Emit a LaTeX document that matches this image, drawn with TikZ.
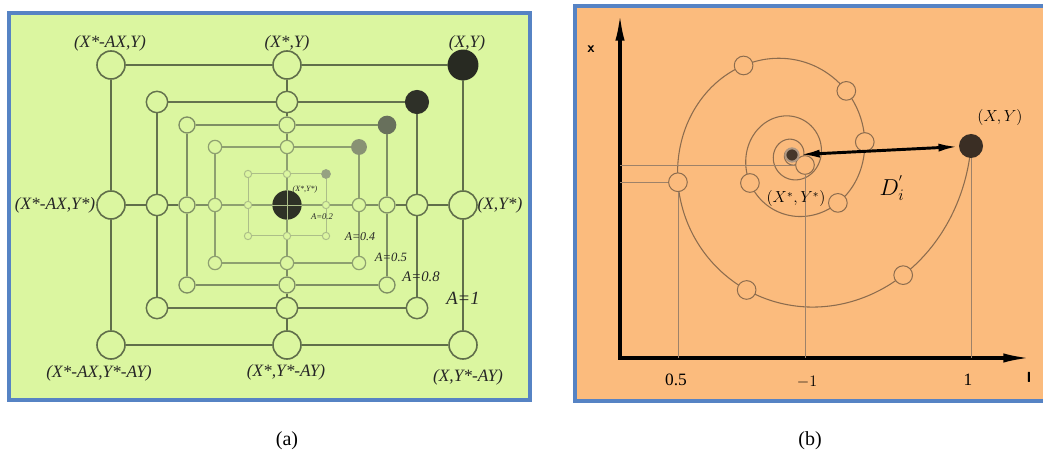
\documentclass[tikz,border=0pt]{standalone}
\usepackage{fontspec}
\setmainfont{Liberation Serif}
\usetikzlibrary{arrows.meta}

\definecolor{leafbg}{RGB}{219,246,160}
\definecolor{peachbg}{RGB}{251,187,125}
\definecolor{framebl}{RGB}{86,131,196}
\definecolor{gridA}{RGB}{96,110,74}
\definecolor{gridB}{RGB}{100,114,78}
\definecolor{gridC}{RGB}{126,142,100}
\definecolor{gridD}{RGB}{142,160,112}
\definecolor{gridE}{RGB}{172,190,136}
\definecolor{dotA}{RGB}{40,42,34}
\definecolor{dotB}{RGB}{46,48,40}
\definecolor{dotC}{RGB}{104,112,92}
\definecolor{dotD}{RGB}{136,146,116}
\definecolor{dotE}{RGB}{150,162,130}
\definecolor{spirl}{RGB}{140,108,78}
\definecolor{inkdark}{RGB}{58,46,36}

\tikzset{every picture/.style={line width=0.75pt}}

\begin{document}
\begin{tikzpicture}[x=0.75pt,y=0.75pt,yscale=-1,xscale=1,
  gridpt/.style={circle,draw,fill=leafbg,inner sep=0pt,minimum size=#1},
  ring/.style={circle,draw=spirl,fill=peachbg,inner sep=0pt,minimum size=14},
  proj/.style={draw=spirl!85!white,line width=0.6pt},
  axisline/.style={line width=2.3pt,{Latex[length=20pt,width=7pt]}-{Latex[length=20pt,width=7pt]}},
  glabel/.style={font=\fontsize{13}{15}\selectfont\itshape,text=black!85},
  alabel/.style={font=\fontsize{#1}{#1}\selectfont\itshape,text=black!85}]
\useasboundingbox (0,0) rectangle (1043,459);

%Shape: Rectangle (left panel)
\draw [draw=framebl,fill=leafbg,line width=3pt] (9,13) rectangle (530,400);
%Shape: Rectangle (right panel)
\draw [draw=framebl,fill=peachbg,line width=3pt] (575,6) rectangle (1047,401);

%Shape: nested squares
\foreach \k/\w/\h/\d/\lc/\dc/\lw in {1/176/140/21/gridA/dotA/1.2,2/130/103/16/gridB/dotB/1.1,3/100/80/12/gridC/dotC/1,4/72/58/10/gridD/dotD/0.9,5/39/31/5.5/gridE/dotE/0.75}{
  \node[gridpt=\d,draw=\lc,line width=\lw pt] (tl\k) at ({287-\w},{205-\h}) {};
  \node[gridpt=\d,draw=\lc,line width=\lw pt] (tm\k) at (287,{205-\h}) {};
  \node[gridpt=\d+1,draw=\dc,fill=\dc,line width=\lw pt] (tr\k) at ({287+\w},{205-\h}) {};
  \node[gridpt=\d,draw=\lc,line width=\lw pt] (ml\k) at ({287-\w},205) {};
  \node[gridpt=\d,draw=\lc,line width=\lw pt] (mr\k) at ({287+\w},205) {};
  \node[gridpt=\d,draw=\lc,line width=\lw pt] (bl\k) at ({287-\w},{205+\h}) {};
  \node[gridpt=\d,draw=\lc,line width=\lw pt] (bm\k) at (287,{205+\h}) {};
  \node[gridpt=\d,draw=\lc,line width=\lw pt] (br\k) at ({287+\w},{205+\h}) {};
  \draw [\lc,line width=\lw pt] (tl\k) -- (tm\k) -- (tr\k) -- (mr\k) -- (br\k) -- (bm\k) -- (bl\k) -- (ml\k) -- (tl\k);
}

%Shape: Circle (best position)
\node [circle,fill=dotA!90!gridA,inner sep=0pt,minimum size=22] (ctr) at (287,205) {};
\draw [gridE,line width=0.5pt] (ctr.north) -- (ctr.south) (ctr.west) -- (ctr.east);

% center cross
\draw [gridA,line width=1.1pt] (tm1) -- (tm2);
\draw [gridB,line width=1pt] (tm2) -- (tm3);
\draw [gridC,line width=0.9pt] (tm3) -- (tm4);
\draw [gridD,line width=0.8pt] (tm4) -- (tm5) -- (ctr) -- (bm5) -- (bm4);
\draw [gridC,line width=0.9pt] (bm4) -- (bm3);
\draw [gridB,line width=1pt] (bm3) -- (bm2);
\draw [gridA,line width=1.1pt] (bm2) -- (bm1);
\draw [gridA,line width=1.1pt] (ml1) -- (ml2);
\draw [gridB,line width=1pt] (ml2) -- (ml3);
\draw [gridC,line width=0.9pt] (ml3) -- (ml4);
\draw [gridD,line width=0.8pt] (ml4) -- (ml5) -- (ctr) -- (mr5) -- (mr4);
\draw [gridC,line width=0.9pt] (mr4) -- (mr3);
\draw [gridB,line width=1pt] (mr3) -- (mr2);
\draw [gridA,line width=1.1pt] (mr2) -- (mr1);

% Text Node
\node [glabel] (lbtl) at (110,43) {(X*-AX,Y)};
% Text Node
\node [glabel] (lbtm) at (287,43) {(X*,Y)};
% Text Node
\node [glabel] (lbtr) at (467,43) {(X,Y)};
% Text Node
\node [glabel] (lbml) at (55,205) {(X*-AX,Y*)};
% Text Node
\node [glabel] (lbmr) at (500,205) {(X,Y*)};
% Text Node
\node [glabel] (lbbl) at (99,373) {(X*-AX,Y*-AY)};
% Text Node
\node [glabel] (lbbm) at (286,372) {(X*,Y*-AY)};
% Text Node
\node [glabel] (lbbr) at (468,377) {(X,Y*-AY)};
% Text Node
\node [alabel=6] (lbc) at (305,190) {(X*,Y*)};
% Text Node
\node [alabel=6.5] (a02) at (322,217) {A=0.2};
\node [alabel=9] (a04) at (360,237) {A=0.4};
\node [alabel=9.5] (a05) at (391,257) {A=0.5};
\node [alabel=11] (a08) at (421,277) {A=0.8};
\node [alabel=14] (a1) at (463,298) {A=1};

%Shape: Axes
\coordinate (o) at (620,358);
\coordinate (ytip) at (620,14);
\coordinate (xtip) at (1030,358);
\draw [axisline] (ytip) -- (o) -- (xtip);

%Shape: Spiral
\draw [spirl,line width=0.8pt] plot[domain=-0.05:25.2,samples=500,smooth] ({792+178*exp(-0.144*\x)*cos(\x r)},{155+1.06*178*exp(-0.144*\x)*sin(\x r)});

% points on the spiral
\foreach \n/\t in {c1/2.92,c2/4.192,c3/5.444,c4/6.116,c5/7.061,c6/8.864,c8/1.913,c9/0.795}{
  \node [ring] (\n) at ({792+178*exp(-0.144*\t)*cos(\t r)},{155+1.06*178*exp(-0.144*\t)*sin(\t r)}) {};
}
\node [ring] (c7) at (805,165) {};
\node [circle,fill=inkdark,inner sep=0pt,minimum size=18] (xy) at (971,146) {};
\node [circle,fill=inkdark!85!spirl,draw=spirl!70!white,line width=1.5pt,inner sep=0pt,minimum size=10] (cs) at (792,155) {};

% projections
\draw [proj] (c1) -- (c1 |- o);
\draw [proj] (c1 -| o) -- (c1);
\draw [proj] (c7) -- (c7 |- o);
\draw [proj] (c7 -| o) -- (c7);
\draw [proj] (xy) -- (xy |- o);

% distance arrow
\draw [line width=2.2pt,{Latex[length=15pt,width=6pt]}-{Latex[length=15pt,width=6pt]}] (cs) -- (xy);

% Text Node
\node [font=\fontsize{17}{20}\selectfont] (dlab) at (892,188) {$D_i^{'}$};
% Text Node
\node [font=\fontsize{12}{14}\selectfont] (xylab) at (1000,118) {$(X,Y)$};
% Text Node
\node [font=\fontsize{12}{14}\selectfont] (cslab) at (796,199) {$(X^*,Y^*)$};
% Text Node
\node [font=\fontsize{13}{15}\selectfont] (t05) at (676,380) {0.5};
\node [font=\fontsize{13}{15}\selectfont] (tm1x) at (807,382) {$-1$};
\node [font=\fontsize{13}{15}\selectfont] (t1) at (968,380) {1};
% Text Node
\node [font=\fontsize{11}{12}\sffamily\bfseries] (xlab) at (591,49) {x};
\node [font=\fontsize{11}{12}\sffamily\bfseries] (ilab) at (1029,377) {I};

% captions
\node [font=\fontsize{15}{17}\selectfont] (capa) at (287,441) {(a)};
\node [font=\fontsize{15}{17}\selectfont] (capb) at (810,441) {(b)};

\end{tikzpicture}
\end{document}
